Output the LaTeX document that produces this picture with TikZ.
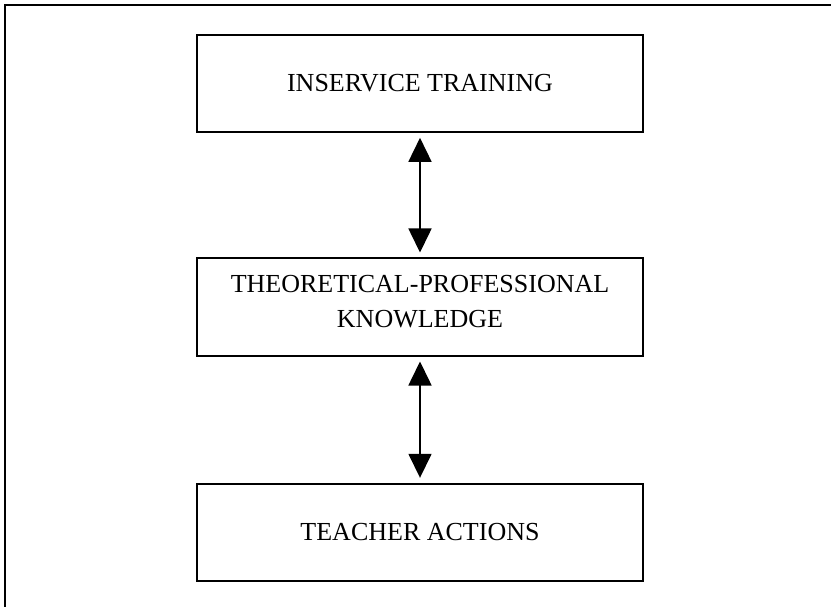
\documentclass[tikz,border=0pt]{standalone}
\usepackage{fontspec}
\setmainfont{Liberation Serif}
\usetikzlibrary{arrows.meta}
\begin{document}
\begin{tikzpicture}[x=1pt,y=-1pt,
  stagebox/.style={draw=black, line width=2pt, minimum width=446pt, minimum height=97pt,
    inner sep=0pt, align=center, font=\fontsize{26}{35}\selectfont},
  biarrow/.style={line width=1.6pt, {Triangle[width=23pt,length=24pt]}-{Triangle[width=23pt,length=24pt]},
    shorten <=5pt, shorten >=5pt}]
  \useasboundingbox (0,0) rectangle (831,607);
  \fill[white] (0,0) rectangle (831,607);
  % cropped outer frame (only top and left edges visible)
  \coordinate (fbl) at (5,607);
  \coordinate (ftl) at (5,5);
  \coordinate (ftr) at (831,5);
  \draw[line width=2.2pt] (fbl) -- (ftl) -- (ftr);
  \node[stagebox] (top) at (420,83.3) {INSERVICE TRAINING};
  \node[stagebox, text depth=12pt] (mid) at (420,307) {THEORETICAL-PROFESSIONAL\\KNOWLEDGE};
  \node[stagebox] (bot) at (420,532.3) {TEACHER ACTIONS};
  \draw[biarrow] (top) -- (mid);
  \draw[biarrow] (mid) -- (bot);
\end{tikzpicture}
\end{document}
